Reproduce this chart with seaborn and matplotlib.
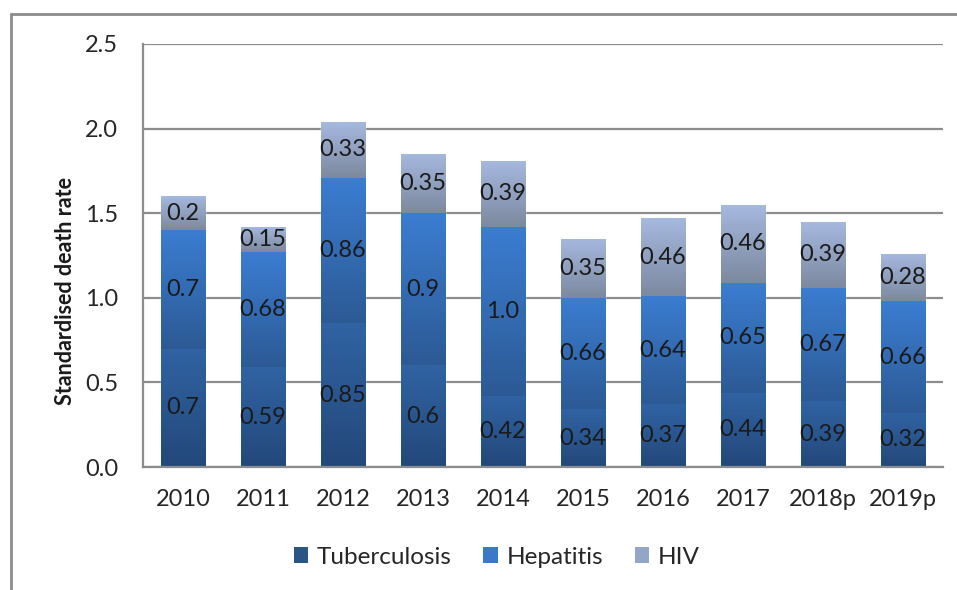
import numpy as np
import pandas as pd
import matplotlib
matplotlib.use("Agg")
import matplotlib.pyplot as plt
from matplotlib.colors import LinearSegmentedColormap
from matplotlib.patches import Patch
from matplotlib.lines import Line2D
import seaborn as sns

years = ["2010", "2011", "2012", "2013", "2014", "2015", "2016", "2017", "2018p", "2019p"]
tuberculosis = [0.7, 0.59, 0.85, 0.6, 0.42, 0.34, 0.37, 0.44, 0.39, 0.32]
hepatitis = [0.7, 0.68, 0.86, 0.9, 1.0, 0.66, 0.64, 0.65, 0.67, 0.66]
hiv = [0.2, 0.15, 0.33, 0.35, 0.39, 0.35, 0.46, 0.46, 0.39, 0.28]
hiv_labels = ["0.2", "0.15", "0.33", "0.35", "0.39", "0.35", "0.46", "0.46", "0.39", "0.28"]
hep_labels = ["0.7", "0.68", "0.86", "0.9", "1.0", "0.66", "0.64", "0.65", "0.67", "0.66"]
tb_labels = ["0.7", "0.59", "0.85", "0.6", "0.42", "0.34", "0.37", "0.44", "0.39", "0.32"]

sns.set_style("white")
plt.rcParams["font.family"] = ["Lato", "DejaVu Sans"]

df = pd.DataFrame({"year": years, "Tuberculosis": tuberculosis,
                   "Hepatitis": hepatitis, "HIV": hiv})

series = [
    ("Tuberculosis", tb_labels, "#2b5487", ("#23487a", "#3063a3")),
    ("Hepatitis", hep_labels, "#3a78c8", ("#2c5a95", "#3b7dd1")),
    ("HIV", hiv_labels, "#94a6c8", ("#7c899f", "#a5b8de")),
]

fig = plt.figure(figsize=(9.57, 5.90), dpi=100)
ax = fig.add_axes([143 / 957, 1 - 467 / 590, 800 / 957, 423 / 590])

bottom = np.zeros(len(years))
for name, labels, col, grad in series:
    sns.barplot(data=df, x="year", y=name, color=col, bottom=bottom,
                width=0.56, errorbar=None, ax=ax, zorder=2)
    bottom = bottom + df[name].values

# gradient fill clipped to each bar segment
for (name, labels, col, grad), cont in zip(series, ax.containers):
    cmap = LinearSegmentedColormap.from_list(name, [grad[0], grad[1]])
    g = np.linspace(0, 1, 100).reshape(-1, 1)
    for p, lab in zip(cont.patches, labels):
        x0, y0 = p.get_x(), p.get_y()
        w, h = p.get_width(), p.get_height()
        im = ax.imshow(g, extent=[x0, x0 + w, y0, y0 + h], origin="lower",
                       aspect="auto", cmap=cmap, zorder=2.5)
        im.set_clip_path(p)
        ax.text(x0 + w / 2, y0 + h / 2, lab, ha="center", va="center",
                fontsize=17, color="#1a1a1a", zorder=4)

ax.set_ylim(0, 2.5)
ax.set_xlim(-0.5, len(years) - 0.5)
ax.set_yticks([0, 0.5, 1.0, 1.5, 2.0, 2.5])
ax.set_yticklabels(["0.0", "0.5", "1.0", "1.5", "2.0", "2.5"])
ax.yaxis.grid(True, color="#8c8c8c", linewidth=1.6, zorder=0)
ax.set_axisbelow(True)
for s in ["top", "right"]:
    ax.spines[s].set_visible(False)
for s in ["left", "bottom"]:
    ax.spines[s].set_color("#8c8c8c")
    ax.spines[s].set_linewidth(1.6)
ax.tick_params(axis="both", length=0, labelsize=17, labelcolor="#262626")
ax.tick_params(axis="x", pad=16)
ax.tick_params(axis="y", pad=18)
ax.set_xlabel("")
ax.set_ylabel("Standardised death rate", fontsize=15.5, fontweight="bold",
              color="#1a1a1a")
ax.yaxis.set_label_coords(-0.0835, 0.416)

handles = [Patch(facecolor=s[2], edgecolor="none") for s in series]
fig.legend(handles, [s[0] for s in series], loc="center", ncol=3,
           bbox_to_anchor=(0.519, 1 - 557 / 590), frameon=False, fontsize=17.5,
           handlelength=0.6, handleheight=0.6, handletextpad=0.35, columnspacing=1.3)

# outer chart border (cut off at right and bottom)
fig.add_artist(Line2D([11 / 957, 11 / 957], [0, 1 - 14 / 590], color="#8c8c8c", linewidth=2))
fig.add_artist(Line2D([11 / 957, 1], [1 - 14 / 590, 1 - 14 / 590], color="#8c8c8c", linewidth=2))

fig.savefig("out.png", dpi=100)
